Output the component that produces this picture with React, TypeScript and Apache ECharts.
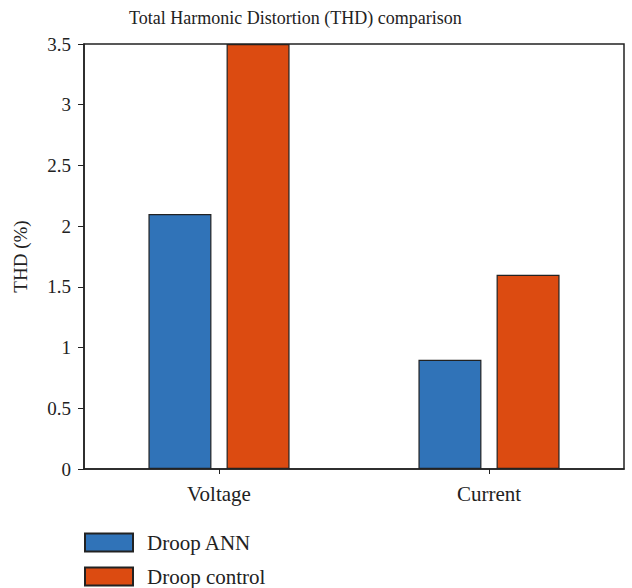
import React, { useEffect, useRef } from "react";
import * as echarts from "echarts";

const categories = ["Voltage", "Current"];
const droopAnn = [2.1, 0.9];
const droopControl = [3.5, 1.6];
const seriesNames = ["Droop ANN", "Droop control"];

const FONT = "'Liberation Serif', 'Times New Roman', serif";

export default function App() {
  const ref = useRef<HTMLDivElement>(null);
  useEffect(() => {
    if (!ref.current) return;
    const chart = echarts.init(ref.current, null, { renderer: "svg" });
    const legendCommon = {
      orient: "vertical",
      left: 84,
      padding: 0,
      itemWidth: 48,
      itemHeight: 18,
      icon: "rect",
      textStyle: { fontFamily: FONT, fontSize: 21, color: "#222", padding: [0, 0, 0, 9] },
    };
    chart.setOption({
      animation: false,
      backgroundColor: "#ffffff",
      textStyle: { fontFamily: FONT, color: "#222" },
      title: {
        text: "Total Harmonic Distortion (THD) comparison",
        left: 124,
        top: 4,
        textStyle: { fontFamily: FONT, fontSize: 18, fontWeight: "normal", color: "#222" },
      },
      grid: {
        left: 84,
        right: 8,
        top: 44,
        bottom: 119,
        show: true,
        borderColor: "#222",
        borderWidth: 1.5,
        containLabel: false,
      },
      legend: [
        { ...legendCommon, top: 532, data: [seriesNames[0]] },
        { ...legendCommon, top: 566, data: [seriesNames[1]] },
      ],
      xAxis: {
        type: "category",
        data: categories,
        axisLine: { lineStyle: { color: "#222", width: 1.5 } },
        axisTick: { show: true, alignWithLabel: true, length: 5, lineStyle: { color: "#222" } },
        axisLabel: { fontFamily: FONT, fontSize: 21, color: "#222", margin: 14 },
      },
      yAxis: {
        type: "value",
        min: 0,
        max: 3.5,
        interval: 0.5,
        name: "THD (%)",
        nameLocation: "middle",
        nameGap: 54,
        nameTextStyle: { fontFamily: FONT, fontSize: 19, color: "#222" },
        splitLine: { show: false },
        axisLine: { show: true, lineStyle: { color: "#222", width: 1.5 } },
        axisTick: { show: true, length: 6, lineStyle: { color: "#222" } },
        axisLabel: { fontFamily: FONT, fontSize: 19, color: "#222", margin: 13 },
      },
      series: [
        {
          name: seriesNames[0],
          type: "bar",
          data: droopAnn,
          barWidth: 63,
          barGap: "24%",
          itemStyle: { color: "#3073b8", borderColor: "#222", borderWidth: 1.2 },
        },
        {
          name: seriesNames[1],
          type: "bar",
          data: droopControl,
          barWidth: 63,
          itemStyle: { color: "#dc4b11", borderColor: "#222", borderWidth: 1.2 },
        },
      ],
    });
    return () => chart.dispose();
  }, []);
  return (
    <div
      ref={ref}
      style={{ position: "absolute", left: 0, top: 0, width: 632, height: 588 }}
    />
  );
}
